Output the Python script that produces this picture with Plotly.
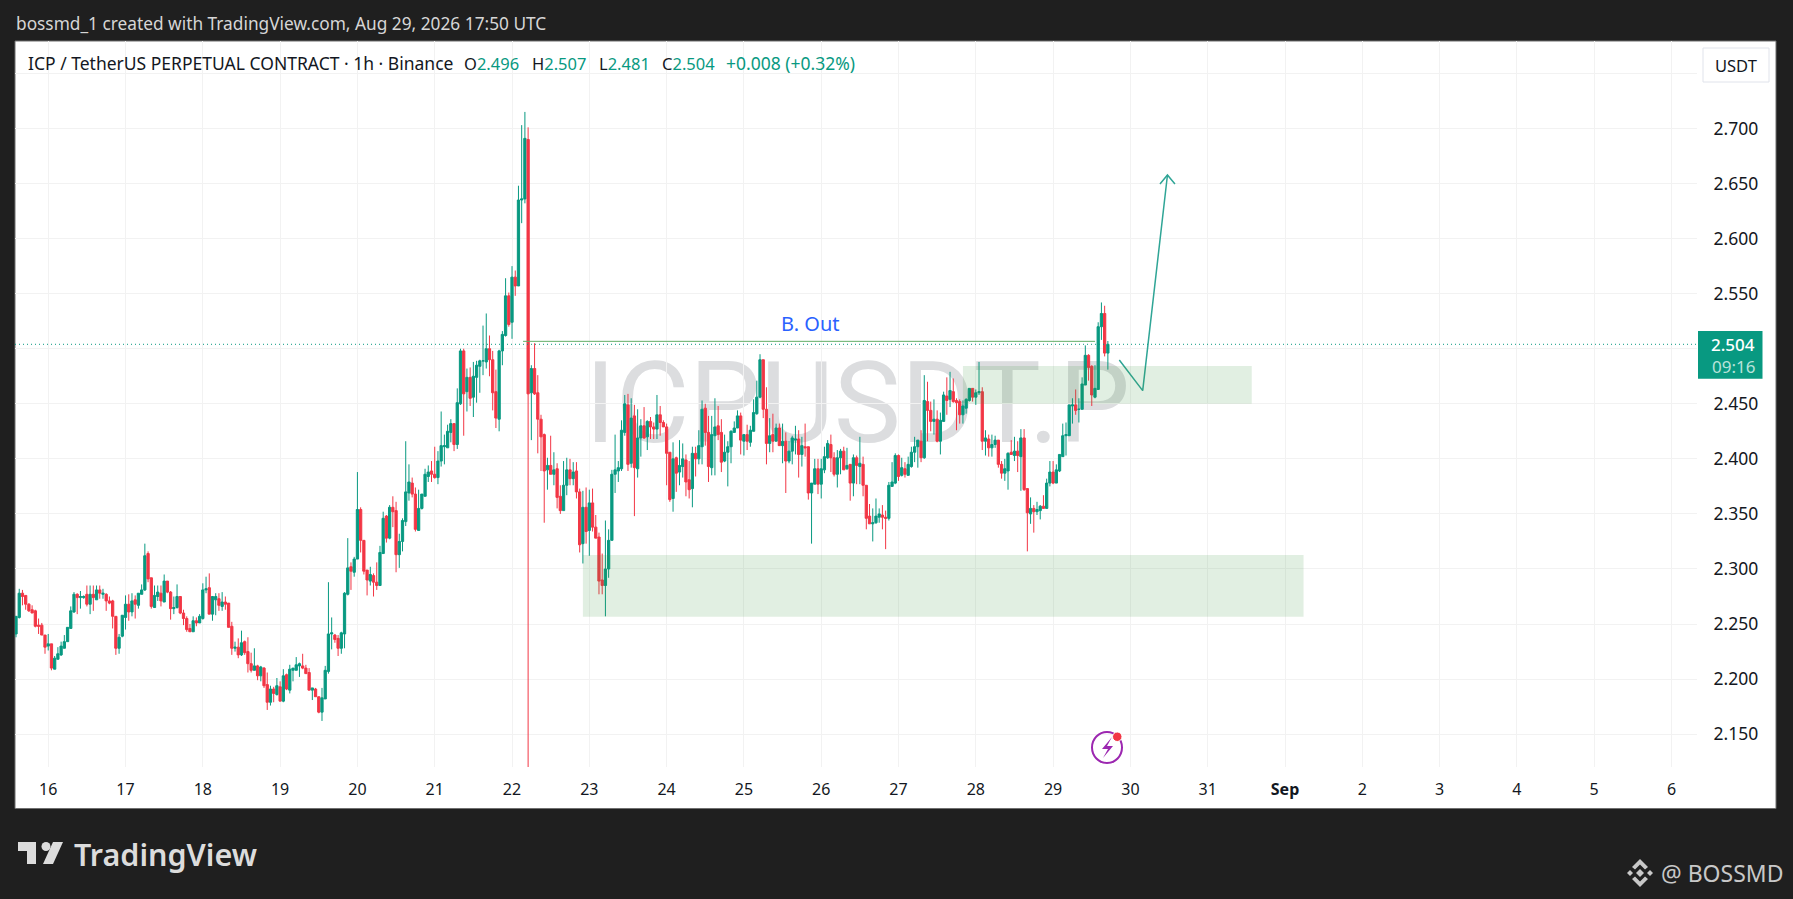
import pandas as pd
import plotly.graph_objects as go

# hourly candles, first one Aug 15 14:00
opens = [
    2.241,2.256,2.278,2.276,2.268,2.263,2.262,2.249,2.249,2.240,
    2.230,2.232,2.209,2.218,2.222,2.228,2.234,2.246,2.261,2.277,
    2.274,2.274,2.277,2.268,2.277,2.272,2.281,2.277,2.277,2.271,
    2.271,2.257,2.228,2.239,2.256,2.268,2.261,2.272,2.267,2.277,
    2.281,2.314,2.292,2.265,2.275,2.278,2.270,2.289,2.279,2.264,
    2.265,2.275,2.260,2.255,2.246,2.243,2.253,2.251,2.255,2.281,
    2.283,2.259,2.272,2.273,2.266,2.270,2.269,2.248,2.228,2.229,
    2.222,2.234,2.225,2.214,2.208,2.212,2.203,2.210,2.195,2.179,
    2.191,2.186,2.193,2.180,2.204,2.190,2.208,2.208,2.212,2.212,
    2.210,2.206,2.190,2.191,2.184,2.170,2.182,2.207,2.241,2.240,
    2.237,2.228,2.241,2.277,2.302,2.297,2.309,2.354,2.326,2.299,
    2.289,2.294,2.288,2.285,2.314,2.348,2.328,2.356,2.353,2.313,
    2.325,2.343,2.369,2.378,2.368,2.335,2.355,2.366,2.384,2.389,
    2.386,2.383,2.398,2.411,2.410,2.424,2.432,2.413,2.450,2.498,
    2.461,2.474,2.456,2.474,2.484,2.489,2.488,2.500,2.490,2.461,
    2.436,2.498,2.512,2.548,2.524,2.565,2.557,2.635,2.636,2.690,
    2.460,2.482,2.460,2.436,2.422,2.390,2.394,2.386,2.391,2.366,
    2.353,2.376,2.390,2.382,2.389,2.370,2.323,2.356,2.335,2.360,
    2.338,2.329,2.290,2.285,2.300,2.326,2.386,2.389,2.391,2.424,
    2.449,2.396,2.439,2.391,2.419,2.430,2.420,2.434,2.429,2.427,
    2.440,2.433,2.429,2.406,2.364,2.401,2.388,2.393,2.399,2.381,
    2.373,2.405,2.400,2.411,2.446,2.424,2.392,2.421,2.430,2.424,
    2.398,2.406,2.411,2.424,2.428,2.439,2.416,2.422,2.415,2.425,
    2.441,2.456,2.490,2.445,2.414,2.422,2.416,2.428,2.412,2.416,
    2.398,2.407,2.417,2.418,2.404,2.411,2.411,2.369,2.377,2.391,
    2.377,2.390,2.401,2.413,2.401,2.386,2.401,2.407,2.391,2.395,
    2.378,2.401,2.393,2.395,2.376,2.348,2.341,2.342,2.347,2.349,
    2.347,2.346,2.375,2.378,2.403,2.385,2.391,2.385,2.393,2.406,
    2.411,2.416,2.401,2.452,2.444,2.434,2.436,2.416,2.434,2.457,
    2.454,2.461,2.453,2.452,2.440,2.446,2.453,2.464,2.456,2.460,
    2.461,2.416,2.418,2.410,2.413,2.417,2.395,2.387,2.389,2.406,
    2.403,2.407,2.402,2.419,2.373,2.350,2.355,2.352,2.353,2.357,
    2.355,2.378,2.388,2.378,2.389,2.402,2.421,2.421,2.448,2.449,
    2.445,2.445,2.467,2.494,2.484,2.456,2.463,2.520,2.532,2.496,
]
highs = [
    2.257,2.282,2.281,2.276,2.269,2.267,2.263,2.255,2.251,2.240,
    2.241,2.232,2.221,2.229,2.234,2.240,2.247,2.266,2.279,2.278,
    2.280,2.276,2.285,2.285,2.285,2.285,2.285,2.282,2.278,2.275,
    2.272,2.257,2.241,2.258,2.276,2.277,2.278,2.276,2.278,2.286,
    2.323,2.316,2.292,2.285,2.285,2.285,2.295,2.289,2.280,2.275,
    2.286,2.275,2.263,2.257,2.250,2.257,2.256,2.259,2.287,2.293,
    2.296,2.275,2.278,2.278,2.279,2.275,2.269,2.252,2.234,2.237,
    2.244,2.235,2.238,2.224,2.228,2.213,2.212,2.211,2.206,2.194,
    2.193,2.201,2.198,2.209,2.205,2.213,2.210,2.220,2.215,2.223,
    2.213,2.210,2.192,2.192,2.184,2.192,2.212,2.288,2.256,2.241,
    2.240,2.243,2.279,2.328,2.306,2.311,2.388,2.356,2.326,2.299,
    2.302,2.296,2.306,2.321,2.352,2.349,2.358,2.366,2.361,2.332,
    2.346,2.416,2.395,2.383,2.374,2.372,2.368,2.391,2.394,2.398,
    2.411,2.407,2.443,2.422,2.431,2.436,2.432,2.464,2.500,2.500,
    2.482,2.483,2.488,2.489,2.490,2.521,2.532,2.512,2.498,2.481,
    2.499,2.516,2.564,2.551,2.575,2.571,2.648,2.703,2.715,2.701,
    2.485,2.505,2.476,2.440,2.423,2.401,2.421,2.406,2.396,2.376,
    2.398,2.401,2.400,2.397,2.397,2.373,2.371,2.374,2.372,2.373,
    2.349,2.333,2.314,2.344,2.336,2.390,2.422,2.398,2.435,2.458,
    2.459,2.455,2.449,2.445,2.436,2.447,2.435,2.438,2.433,2.458,
    2.448,2.435,2.432,2.406,2.415,2.402,2.417,2.414,2.404,2.398,
    2.411,2.411,2.426,2.453,2.450,2.439,2.439,2.455,2.448,2.436,
    2.422,2.416,2.426,2.434,2.444,2.442,2.422,2.431,2.430,2.454,
    2.471,2.495,2.490,2.465,2.437,2.441,2.432,2.432,2.432,2.424,
    2.416,2.421,2.430,2.426,2.420,2.432,2.411,2.378,2.400,2.400,
    2.400,2.411,2.417,2.422,2.406,2.408,2.409,2.411,2.410,2.395,
    2.404,2.403,2.420,2.402,2.376,2.359,2.355,2.364,2.355,2.358,
    2.353,2.379,2.397,2.405,2.404,2.401,2.397,2.402,2.411,2.420,
    2.417,2.426,2.476,2.470,2.452,2.454,2.444,2.442,2.461,2.474,
    2.479,2.473,2.455,2.454,2.453,2.455,2.464,2.464,2.463,2.488,
    2.465,2.426,2.422,2.422,2.421,2.417,2.398,2.400,2.406,2.417,
    2.420,2.416,2.427,2.427,2.373,2.365,2.358,2.361,2.358,2.367,
    2.382,2.398,2.398,2.395,2.404,2.432,2.433,2.449,2.455,2.463,
    2.455,2.474,2.503,2.495,2.485,2.485,2.524,2.542,2.539,2.507,
]
lows = [
    2.238,2.255,2.267,2.263,2.261,2.260,2.247,2.241,2.240,2.223,
    2.226,2.208,2.209,2.218,2.221,2.228,2.234,2.246,2.260,2.259,
    2.264,2.273,2.266,2.259,2.262,2.272,2.273,2.273,2.262,2.268,
    2.246,2.222,2.223,2.238,2.245,2.253,2.257,2.255,2.264,2.277,
    2.280,2.288,2.264,2.265,2.271,2.266,2.270,2.278,2.254,2.259,
    2.264,2.259,2.249,2.243,2.243,2.243,2.248,2.251,2.254,2.278,
    2.259,2.253,2.258,2.262,2.262,2.263,2.247,2.222,2.225,2.219,
    2.221,2.222,2.206,2.206,2.208,2.199,2.198,2.192,2.172,2.176,
    2.179,2.185,2.180,2.179,2.190,2.187,2.198,2.208,2.202,2.209,
    2.205,2.190,2.181,2.184,2.169,2.162,2.182,2.205,2.227,2.233,
    2.221,2.223,2.228,2.276,2.281,2.293,2.309,2.315,2.295,2.276,
    2.285,2.275,2.281,2.285,2.314,2.324,2.327,2.338,2.297,2.301,
    2.316,2.339,2.362,2.365,2.334,2.335,2.354,2.366,2.379,2.379,
    2.382,2.377,2.393,2.395,2.410,2.415,2.407,2.409,2.449,2.421,
    2.443,2.448,2.438,2.451,2.460,2.476,2.482,2.475,2.444,2.428,
    2.425,2.485,2.511,2.520,2.509,2.548,2.557,2.614,2.632,2.120,
    2.417,2.458,2.405,2.389,2.342,2.372,2.386,2.376,2.355,2.350,
    2.353,2.367,2.376,2.376,2.364,2.315,2.305,2.323,2.312,2.334,
    2.328,2.277,2.277,2.257,2.292,2.326,2.369,2.379,2.389,2.421,
    2.389,2.392,2.348,2.383,2.402,2.418,2.408,2.418,2.418,2.418,
    2.421,2.429,2.376,2.361,2.352,2.370,2.376,2.383,2.366,2.364,
    2.356,2.384,2.395,2.395,2.412,2.379,2.385,2.385,2.417,2.388,
    2.397,2.375,2.396,2.424,2.428,2.404,2.403,2.408,2.411,2.425,
    2.440,2.455,2.437,2.395,2.406,2.406,2.416,2.412,2.396,2.369,
    2.396,2.395,2.404,2.383,2.393,2.402,2.363,2.323,2.377,2.368,
    2.364,2.387,2.400,2.388,2.384,2.374,2.386,2.390,2.390,2.362,
    2.366,2.377,2.377,2.366,2.336,2.341,2.325,2.341,2.342,2.336,
    2.318,2.344,2.375,2.377,2.380,2.384,2.383,2.385,2.392,2.397,
    2.392,2.397,2.400,2.416,2.425,2.422,2.415,2.404,2.434,2.440,
    2.447,2.451,2.426,2.432,2.432,2.441,2.452,2.452,2.449,2.458,
    2.408,2.403,2.402,2.402,2.410,2.392,2.382,2.380,2.372,2.404,
    2.398,2.388,2.371,2.371,2.316,2.341,2.333,2.349,2.345,2.355,
    2.355,2.375,2.377,2.378,2.388,2.402,2.403,2.421,2.432,2.440,
    2.433,2.445,2.467,2.471,2.448,2.455,2.463,2.508,2.493,2.481,
]
closes = [
    2.257,2.278,2.275,2.268,2.262,2.260,2.248,2.248,2.240,2.229,
    2.232,2.210,2.219,2.223,2.230,2.234,2.247,2.262,2.277,2.274,
    2.275,2.275,2.268,2.277,2.274,2.281,2.278,2.278,2.271,2.269,
    2.257,2.228,2.238,2.258,2.268,2.261,2.271,2.268,2.278,2.281,
    2.312,2.291,2.266,2.276,2.279,2.271,2.289,2.279,2.264,2.265,
    2.275,2.260,2.255,2.245,2.243,2.253,2.251,2.257,2.281,2.282,
    2.259,2.275,2.275,2.267,2.270,2.268,2.247,2.228,2.229,2.222,
    2.233,2.224,2.214,2.208,2.212,2.203,2.211,2.194,2.179,2.191,
    2.187,2.194,2.180,2.203,2.191,2.209,2.210,2.213,2.214,2.210,
    2.205,2.190,2.192,2.184,2.170,2.183,2.208,2.241,2.242,2.236,
    2.228,2.242,2.278,2.301,2.298,2.309,2.354,2.326,2.298,2.290,
    2.295,2.288,2.285,2.315,2.346,2.328,2.356,2.352,2.313,2.325,
    2.344,2.370,2.379,2.368,2.336,2.355,2.368,2.386,2.388,2.386,
    2.383,2.398,2.412,2.412,2.425,2.432,2.413,2.451,2.498,2.459,
    2.474,2.455,2.475,2.485,2.489,2.489,2.500,2.490,2.460,2.437,
    2.498,2.513,2.548,2.522,2.565,2.557,2.635,2.636,2.691,2.459,
    2.482,2.459,2.436,2.420,2.389,2.394,2.386,2.390,2.365,2.353,
    2.376,2.390,2.382,2.388,2.370,2.322,2.356,2.334,2.360,2.338,
    2.328,2.289,2.285,2.300,2.326,2.386,2.390,2.392,2.426,2.450,
    2.395,2.437,2.392,2.419,2.430,2.419,2.434,2.429,2.427,2.440,
    2.433,2.429,2.405,2.363,2.400,2.387,2.394,2.400,2.379,2.372,
    2.405,2.400,2.412,2.445,2.424,2.393,2.422,2.429,2.422,2.397,
    2.406,2.411,2.425,2.428,2.439,2.417,2.422,2.416,2.426,2.442,
    2.456,2.490,2.445,2.414,2.421,2.416,2.428,2.412,2.416,2.398,
    2.407,2.419,2.418,2.404,2.412,2.410,2.369,2.378,2.391,2.377,
    2.391,2.402,2.414,2.401,2.386,2.401,2.407,2.390,2.394,2.378,
    2.401,2.394,2.396,2.376,2.346,2.341,2.342,2.348,2.350,2.347,
    2.346,2.376,2.379,2.403,2.384,2.392,2.386,2.395,2.406,2.411,
    2.417,2.401,2.453,2.444,2.434,2.436,2.416,2.435,2.458,2.453,
    2.462,2.452,2.451,2.440,2.448,2.454,2.464,2.456,2.460,2.461,
    2.416,2.419,2.410,2.413,2.417,2.395,2.387,2.391,2.405,2.404,
    2.407,2.403,2.419,2.372,2.351,2.355,2.352,2.354,2.357,2.355,
    2.378,2.388,2.378,2.390,2.404,2.421,2.422,2.449,2.449,2.444,
    2.445,2.468,2.494,2.483,2.458,2.464,2.520,2.532,2.496,2.504,
]
assert len(opens) == len(highs) == len(lows) == len(closes) == 340

times = pd.date_range("2026-08-15 14:00", periods=len(closes), freq="h")

day_ticks = pd.date_range("2026-08-16", "2026-09-06", freq="D")
day_labels = ["16","17","18","19","20","21","22","23","24","25","26","27","28","29","30","31",
              "<b>Sep</b>","2","3","4","5","6"]
price_ticks = [2.15,2.20,2.25,2.30,2.35,2.40,2.45,2.50,2.55,2.60,2.65,2.70,2.75]
price_labels = ["2.150","2.200","2.250","2.300","2.350","2.400","2.450","","2.550","2.600","2.650","2.700",""]

# zones, trend drawing and breakout line, in chart units
zone_times = [("2026-08-22 22:00", "2026-09-01 05:45"), ("2026-08-27 20:00", "2026-08-31 13:40")]
zone_prices = [(2.2567, 2.3127), (2.4501, 2.4843)]
arrow_times = ["2026-08-29 20:33", "2026-08-30 03:49", "2026-08-30 11:30"]
arrow_prices = [2.4898, 2.4619, 2.6577]
head_times = ["2026-08-30 09:11", "2026-08-30 11:30", "2026-08-30 13:50"]
head_prices = [2.6496, 2.6577, 2.6496]
breakout_times = ["2026-08-22 03:25", "2026-08-29 13:02"]
breakout_price = 2.5067
last_price = 2.504

WIDTH, HEIGHT = 1793, 899
LEFT, RIGHT, TOP, BOTTOM = 15, 1697, 41, 767
GREEN = "#089981"
RED = "#F23645"
INK = "#131722"
DARK = "#1f1f1f"
FONT = "Noto Sans"


def px(x):
    return (x - LEFT) / (RIGHT - LEFT)


def py(y):
    return (BOTTOM - y) / (BOTTOM - TOP)


def poly(points):
    return "M" + " L".join(f"{px(x)} {py(y)}" for x, y in points) + " Z"


def box(x0, y0, x1, y1, kind="rect", **kw):
    return dict(type=kind, xref="paper", yref="paper", x0=px(x0), x1=px(x1), y0=py(y0), y1=py(y1), **kw)


def label(x, y, text, size=15, color=INK, anchor="left", weight="normal"):
    return dict(xref="paper", yref="paper", x=px(x), y=py(y), text=text, showarrow=False,
                xanchor=anchor, yanchor="middle", borderpad=0,
                font=dict(family=FONT, size=size, color=color, weight=weight))


fig = go.Figure()
fig.add_trace(go.Candlestick(
    x=times, open=opens, high=highs, low=lows, close=closes,
    increasing=dict(line=dict(color=GREEN, width=1), fillcolor=GREEN),
    decreasing=dict(line=dict(color=RED, width=1), fillcolor=RED),
    hoverinfo="skip", showlegend=False))
fig.add_trace(go.Scatter(x=arrow_times, y=arrow_prices, mode="lines", hoverinfo="skip", showlegend=False,
                         line=dict(color="#2fa596", width=1.5)))
fig.add_trace(go.Scatter(x=head_times, y=head_prices, mode="lines", hoverinfo="skip", showlegend=False,
                         line=dict(color="#2fa596", width=1.5)))

shapes = [
    # white price and time scales sit under the tick labels
    box(LEFT, TOP, 1776, 808.5, fillcolor="white", line=dict(color="#6f6f6f", width=1), layer="below"),
    box(589, 345, 1126, 446, fillcolor="rgba(0,0,0,0)", line=dict(width=0), layer="below",
        label=dict(text="ICPUSDT.P", font=dict(family="Roboto", size=113, color="#dcdddf"),
                   textposition="middle center")),
]
for (t0, t1), (p0, p1) in zip(zone_times, zone_prices):
    shapes.append(dict(type="rect", xref="x", yref="y", x0=t0, x1=t1, y0=p0, y1=p1, layer="above",
                       fillcolor="rgba(56,150,60,0.15)", line=dict(width=0)))
shapes += [
    dict(type="line", xref="x", yref="y", x0=breakout_times[0], x1=breakout_times[1],
         y0=breakout_price, y1=breakout_price, line=dict(color="#62ad67", width=1)),
    dict(type="line", xref="paper", yref="y", x0=0, x1=1, y0=last_price, y1=last_price,
         line=dict(color=GREEN, width=1, dash="1px,3px")),
    box(1698, 331, 1762.5, 378.7, fillcolor=GREEN, line=dict(width=0)),
    box(1703, 48, 1769, 82, fillcolor="white", line=dict(color="#e0e3eb", width=1)),
    # lightning badge
    box(1092, 732, 1122, 763, kind="circle", fillcolor="rgba(0,0,0,0)", line=dict(color="#9c27b0", width=2)),
    dict(type="path", xref="paper", yref="paper", fillcolor="#9c27b0", line=dict(width=0),
         path=poly([(1112, 737), (1102, 749), (1108, 749), (1103, 758), (1113, 746), (1107, 746)])),
    box(1112.5, 732, 1122, 741.5, kind="circle", fillcolor=RED, line=dict(color="white", width=1)),
    # tradingview mark
    dict(type="path", xref="paper", yref="paper", fillcolor="#dcdcdc", line=dict(width=0),
         path=poly([(18, 842), (36, 842), (36, 864), (27, 864), (27, 851), (18, 851)])),
    box(41.5, 842, 50.5, 851, kind="circle", fillcolor="#dcdcdc", line=dict(width=0)),
    dict(type="path", xref="paper", yref="paper", fillcolor="#dcdcdc", line=dict(width=0),
         path=poly([(53, 842), (63, 842), (53, 864), (43, 864)])),
]
# binance mark
for cx, cy, r in [(1640, 873, 4), (1630, 873, 3), (1650, 873, 3)]:
    shapes.append(dict(type="path", xref="paper", yref="paper", fillcolor="#c8c8c8", line=dict(width=0),
                       path=poly([(cx, cy - r), (cx + r, cy), (cx, cy + r), (cx - r, cy)])))
for sign in (-1, 1):
    shapes.append(dict(type="path", xref="paper", yref="paper", fillcolor="#c8c8c8", line=dict(width=0),
                       path=poly([(1640, 873 + 14 * sign), (1648, 873 + 6 * sign), (1645, 873 + 3.5 * sign),
                                  (1640, 873 + 8.5 * sign), (1635, 873 + 3.5 * sign), (1632, 873 + 6 * sign)])))

annotations = [
    label(15, 23, "bossmd_1 created with TradingView.com, Aug 29, 2026 17:50 UTC", size=17.3, color="#d6d6d6"),
    label(27, 63.5, "ICP / TetherUS PERPETUAL CONTRACT · 1h · Binance", size=17.5),
    label(463, 63.5, f'O<span style="color:{GREEN}">2.496</span>', size=16.5),
    label(531, 63.5, f'H<span style="color:{GREEN}">2.507</span>', size=16.5),
    label(598, 63.5, f'L<span style="color:{GREEN}">2.481</span>', size=16.5),
    label(661, 63.5, f'C<span style="color:{GREEN}">2.504</span>', size=16.5),
    label(725, 63.5, "+0.008 (+0.32%)", size=17.5, color=GREEN),
    label(1736, 65, "USDT", size=16.5, anchor="center"),
    label(1733, 344, "2.504", size=17, color="white", anchor="center", weight=500),
    label(1733, 366, "09:16", size=17, color="#b8e3da", anchor="center"),
    label(73, 854, "TradingView", size=30.5, color="#dcdcdc", weight=600),
    label(1660, 873, "@ BOSSMD", size=23, color="#c8c8c8"),
    dict(xref="x", yref="y", x="2026-08-25 20:31", y=2.5228, text="B. Out", showarrow=False,
         font=dict(family=FONT, size=20, color="#2962ff")),
]

fig.update_layout(
    width=WIDTH, height=HEIGHT,
    margin=dict(l=LEFT, r=WIDTH - RIGHT, t=TOP, b=HEIGHT - BOTTOM, pad=0),
    paper_bgcolor=DARK, plot_bgcolor="white",
    showlegend=False,
    boxgap=0.3, boxgroupgap=0,
    shapes=shapes, annotations=annotations,
    font=dict(family=FONT, color=INK),
    xaxis=dict(type="date", range=["2026-08-15 13:41", "2026-09-06 07:55"], rangeslider_visible=False,
               tickmode="array", tickvals=day_ticks, ticktext=day_labels, tickangle=0,
               ticks="outside", ticklen=8, tickcolor="white", tickfont=dict(size=16, color=INK),
               showgrid=True, gridcolor="#f2f2f2", gridwidth=1, zeroline=False, showline=False),
    yaxis=dict(side="right", range=[2.1202, 2.7794], tickmode="array", tickvals=price_ticks, ticktext=price_labels,
               ticks="outside", ticklen=12, tickcolor="white", tickfont=dict(size=17.5, color=INK),
               showgrid=True, gridcolor="#f2f2f2", gridwidth=1, zeroline=False, showline=False),
)

fig.write_html("out.html", config=dict(displayModeBar=False),
               post_script="document.body.style.margin='0';")
